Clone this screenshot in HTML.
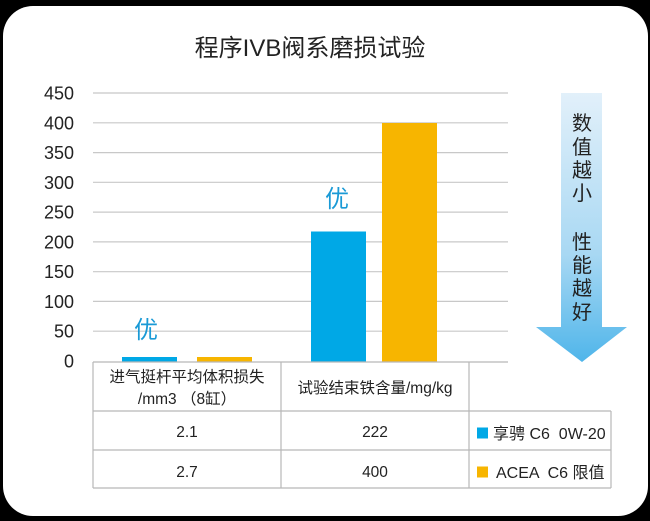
<!DOCTYPE html>
<html><head><meta charset="utf-8"><style>
html,body{margin:0;padding:0;background:#000;}
svg{display:block;}
text{font-family:"Liberation Sans","Noto Sans CJK SC",sans-serif;fill:#222;}
.pre{white-space:pre;}
</style></head><body>
<svg width="650" height="521" viewBox="0 0 650 521" xmlns="http://www.w3.org/2000/svg" xml:space="preserve">
<defs>
<linearGradient id="ag" x1="0" y1="93" x2="0" y2="362" gradientUnits="userSpaceOnUse">
<stop offset="0" stop-color="#e2f0fa"/>
<stop offset="0.6" stop-color="#a8d8f3"/>
<stop offset="1" stop-color="#4fb5ea"/>
</linearGradient>
</defs>
<rect x="0" y="0" width="650" height="521" fill="#000"/>
<rect x="3" y="6" width="645" height="510" rx="30" ry="30" fill="#fff"/>
<text x="310" y="56" text-anchor="middle" font-size="24">程序IVB阀系磨损试验</text>
<g stroke="#c8c8c8" stroke-width="1.2">
<line x1="93" y1="93" x2="508" y2="93"/>
<line x1="93" y1="122.8" x2="508" y2="122.8"/>
<line x1="93" y1="152.6" x2="508" y2="152.6"/>
<line x1="93" y1="182.3" x2="508" y2="182.3"/>
<line x1="93" y1="212.1" x2="508" y2="212.1"/>
<line x1="93" y1="241.9" x2="508" y2="241.9"/>
<line x1="93" y1="271.7" x2="508" y2="271.7"/>
<line x1="93" y1="301.4" x2="508" y2="301.4"/>
<line x1="93" y1="331.2" x2="508" y2="331.2"/>
</g>
<g font-size="18" text-anchor="end">
<text x="74" y="99.5">450</text>
<text x="74" y="129.3">400</text>
<text x="74" y="159.1">350</text>
<text x="74" y="188.8">300</text>
<text x="74" y="218.6">250</text>
<text x="74" y="248.4">200</text>
<text x="74" y="278.2">150</text>
<text x="74" y="307.9">100</text>
<text x="74" y="337.7">50</text>
<text x="74" y="367.5">0</text>
</g>
<rect x="122" y="357" width="55" height="5" fill="#00a8e6"/>
<rect x="197" y="357" width="55" height="5" fill="#f7b500"/>
<rect x="311" y="231.5" width="55" height="130.5" fill="#00a8e6"/>
<rect x="382" y="123" width="55" height="239" fill="#f7b500"/>
<text x="146" y="338" text-anchor="middle" font-size="24" style="fill:#1a9ad6">优</text>
<text x="337" y="207" text-anchor="middle" font-size="24" style="fill:#1a9ad6">优</text>
<g stroke="#b8b8b8" stroke-width="1.2" fill="none">
<line x1="93" y1="362" x2="508" y2="362"/>
<line x1="93" y1="411" x2="611" y2="411"/>
<line x1="93" y1="450" x2="611" y2="450"/>
<line x1="93" y1="488" x2="611" y2="488"/>
<line x1="93" y1="362" x2="93" y2="488"/>
<line x1="281" y1="362" x2="281" y2="488"/>
<line x1="469" y1="362" x2="469" y2="488"/>
<line x1="611" y1="411" x2="611" y2="488"/>
</g>
<g font-size="15.5" text-anchor="middle">
<text x="187" y="382">进气挺杆平均体积损失</text>
<text x="187" y="404">/mm3 （8缸）</text>
<text x="375" y="393">试验结束铁含量/mg/kg</text>
<text x="187" y="437">2.1</text>
<text x="187" y="477">2.7</text>
<text x="375" y="437">222</text>
<text x="375" y="477">400</text>
</g>
<rect x="477" y="427.5" width="11" height="11" fill="#00a8e6"/>
<rect x="477" y="466.5" width="11" height="11" fill="#f7b500"/>
<text class="pre" x="493" y="439" font-size="16">享骋 C6  0W-20</text>
<text class="pre" x="496" y="478" font-size="16">ACEA  C6 限值</text>
<polygon points="561,93 602,93 602,327 627,327 582,362 536,327 561,327" fill="url(#ag)"/>
<g font-size="20" text-anchor="middle">
<text x="582" y="130">数</text>
<text x="582" y="154">值</text>
<text x="582" y="177">越</text>
<text x="582" y="200">小</text>
<text x="582" y="249">性</text>
<text x="582" y="272">能</text>
<text x="582" y="295">越</text>
<text x="582" y="319">好</text>
</g>
</svg>
</body></html>
